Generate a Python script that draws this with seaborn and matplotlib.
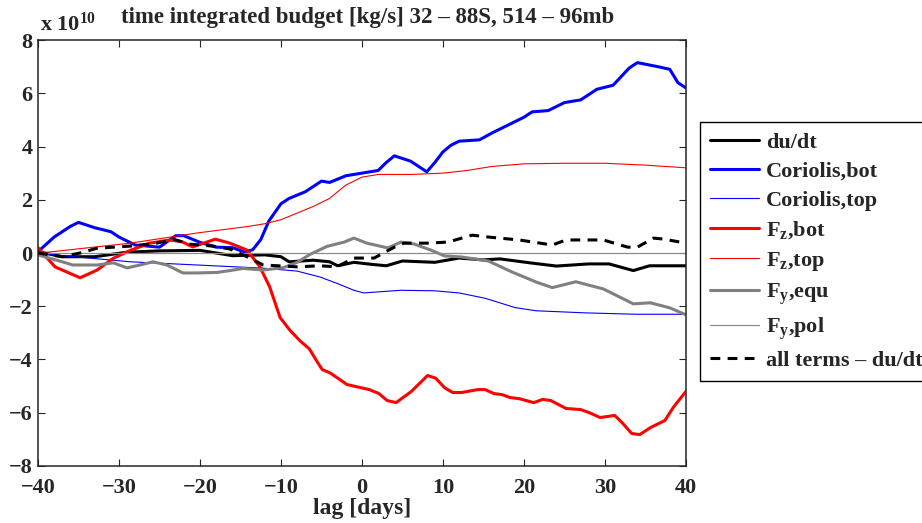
import matplotlib
matplotlib.use("Agg")
import matplotlib.pyplot as plt
import numpy as np
import pandas as pd
import seaborn as sns

# time-integrated momentum budget terms, in units of 1e10 kg/s
du_lag = [-40, -37, -33, -29, -25, -20, -18, -16, -12, -10, -9, -6, -4, -3, -1, 1, 3, 5,
          9, 12, 15, 17, 21, 24, 28, 30.5, 33.5, 35.5, 40]
du_val = [0.05, -0.14, -0.14, 0.03, 0.08, 0.1, 0.0, -0.1, -0.07, -0.14, -0.33, -0.27, -0.33,
          -0.48, -0.35, -0.42, -0.48, -0.3, -0.35, -0.19, -0.26, -0.22, -0.38, -0.49, -0.41,
          -0.41, -0.66, -0.48, -0.48]

cb_lag = [-40, -38, -36, -35, -33, -31, -30, -28, -25, -23, -22, -20, -18, -16, -14.5, -13.5,
          -12.5, -11.5, -10, -9, -7, -5, -4, -2, 0, 2, 3, 4, 5, 6, 8, 9, 10, 11, 12, 14.5, 16,
          18, 19, 20, 21, 23, 25, 27, 29, 31, 33, 34, 36.5, 38, 39, 40]
cb_val = [0.05, 0.6, 1.0, 1.15, 0.95, 0.8, 0.6, 0.3, 0.22, 0.65, 0.65, 0.4, 0.22, 0.2, 0.04,
          0.12, 0.5, 1.2, 1.85, 2.05, 2.3, 2.7, 2.65, 2.9, 3.0, 3.1, 3.4, 3.65, 3.55, 3.45,
          3.05, 3.4, 3.8, 4.05, 4.2, 4.25, 4.5, 4.8, 4.95, 5.1, 5.3, 5.35, 5.65, 5.75, 6.15,
          6.3, 6.95, 7.15, 7.0, 6.9, 6.4, 6.2]

ct_lag = [-40, -37, -28.6, -20.4, -12.2, -8, -5.2, -3, -1, 0.2, 2.5, 4.8, 9, 12, 15.2, 18.9,
          21.5, 27.7, 33.8, 40]
ct_val = [0.0, -0.1, -0.33, -0.45, -0.57, -0.68, -0.9, -1.15, -1.4, -1.5, -1.45, -1.4, -1.42,
          -1.5, -1.7, -2.05, -2.17, -2.25, -2.3, -2.3]

fzb_lag = [-40, -37.9, -34.8, -32.7, -30.7, -28.6, -26.2, -23.7, -22.2, -20.9, -18.1, -16.3,
           -14.2, -12.6, -11.4, -10.1, -8.9, -7.65, -6.5, -5.5, -4.9, -3.95, -1.85, 0.9, 2.1,
           3.1, 4.2, 6.1, 8.1, 9.1, 10.2, 11.2, 12.3, 14.3, 15.2, 16.3, 17.3, 18.3, 19.4,
           21.2, 22.3, 23.3, 25.2, 27, 28.1, 29.4, 31.2, 32.2, 33.3, 34.3, 35.6, 37.4, 38.5,
           39.5, 40]
fzb_val = [0.2, -0.52, -0.93, -0.64, -0.2, 0.1, 0.37, 0.49, 0.42, 0.23, 0.52, 0.37, 0.11,
           -0.52, -1.27, -2.43, -2.9, -3.3, -3.6, -4.1, -4.38, -4.5, -4.94, -5.13, -5.28,
           -5.54, -5.62, -5.2, -4.6, -4.7, -5.06, -5.24, -5.24, -5.13, -5.13, -5.28, -5.32,
           -5.43, -5.47, -5.62, -5.5, -5.54, -5.84, -5.88, -6.0, -6.18, -6.1, -6.4, -6.78,
           -6.82, -6.56, -6.29, -5.77, -5.39, -5.2]

fzt_lag = [-40, -38.5, -28.6, -20.4, -14, -12, -10, -8, -6, -4, -2, 0, 2, 6, 10, 13, 16, 20,
           25, 30, 35, 40]
fzt_val = [0.0, 0.04, 0.37, 0.75, 1.0, 1.1, 1.25, 1.5, 1.75, 2.05, 2.55, 2.85, 2.95, 2.95,
           3.0, 3.1, 3.25, 3.35, 3.37, 3.37, 3.3, 3.2]

fye_lag = [-40, -37, -35.7, -32.7, -30.7, -29, -27.4, -25.8, -24.1, -22.1, -20.4, -17.9,
           -16.3, -14.7, -12.2, -9.7, -8, -6.4, -4.3, -2.2, -1.0, 0.6, 3.2, 4.8, 6.4, 8.5,
           10.2, 12.3, 15.6, 18.5, 21.5, 23.5, 26.4, 29.8, 33.5, 35.6, 38, 40]
fye_val = [-0.07, -0.33, -0.45, -0.45, -0.37, -0.56, -0.45, -0.33, -0.45, -0.75, -0.75,
           -0.73, -0.66, -0.58, -0.64, -0.55, -0.35, -0.05, 0.25, 0.41, 0.56, 0.37, 0.19,
           0.41, 0.34, 0.11, -0.11, -0.15, -0.3, -0.71, -1.09, -1.3, -1.08, -1.35, -1.91,
           -1.87, -2.06, -2.32]

fyp_lag = [-40, -20, 0, 20, 40]
fyp_val = [0.0, 0.0, 0.0, 0.0, 0.0]

res_lag = [-40, -37, -34.8, -32.7, -28.6, -25.3, -23.3, -21.2, -18.4, -16.3, -14.2, -12.2,
           -8, -5.2, -3.1, -1.0, 1.5, 4.0, 5.2, 8.1, 10.6, 13.6, 15.6, 19.4, 23.5, 25.2, 29.8,
           32.8, 34, 36, 37.3, 40]
res_val = [0.0, -0.14, 0.0, 0.18, 0.26, 0.37, 0.52, 0.33, 0.26, 0.15, -0.14, -0.45, -0.52,
           -0.48, -0.52, -0.19, -0.19, 0.22, 0.37, 0.37, 0.41, 0.67, 0.6, 0.49, 0.3, 0.49,
           0.49, 0.22, 0.22, 0.56, 0.52, 0.37]

x_ticks = [-40, -30, -20, -10, 0, 10, 20, 30, 40]
y_ticks = [-8, -6, -4, -2, 0, 2, 4, 6, 8]

sns.set_style("ticks")
plt.rcParams.update({
    "font.family": ["Liberation Serif", "DejaVu Serif"],
    "font.weight": "bold",
    "mathtext.fontset": "custom",
    "mathtext.rm": "Liberation Serif:bold",
    "mathtext.it": "Liberation Serif:bold",
    "mathtext.bf": "Liberation Serif:bold",
    "axes.linewidth": 1.1,
    "xtick.direction": "in",
    "ytick.direction": "in",
    "xtick.top": True,
    "ytick.right": True,
    "xtick.major.size": 5,
    "ytick.major.size": 5,
    "xtick.major.width": 0.8,
    "ytick.major.width": 0.8,
})

series = [
    ("du/dt", du_lag, du_val, "black", 2.2, "-"),
    ("Coriolis,bot", cb_lag, cb_val, "#0000ff", 2.2, "-"),
    ("Coriolis,top", ct_lag, ct_val, "#0000ff", 0.8, "-"),
    ("F$_{z}$,bot", fzb_lag, fzb_val, "#ff0000", 2.2, "-"),
    ("F$_{z}$,top", fzt_lag, fzt_val, "#ff0000", 0.8, "-"),
    ("F$_{y}$,equ", fye_lag, fye_val, "#808080", 2.2, "-"),
    ("F$_{y}$,pol", fyp_lag, fyp_val, "#8c8c8c", 0.9, "-"),
    ("all terms \u2013 du/dt", res_lag, res_val, "black", 2.2, (0, (3.2, 2.4))),
]

frames = [pd.DataFrame({"lag": lg, "value": v, "term": name})
          for name, lg, v, *_ in series]
df = pd.concat(frames, ignore_index=True)

fig = plt.figure(figsize=(9.22, 5.23), dpi=100)
ax = fig.add_axes([0.0412, 0.109, 0.7028, 0.8145])

for name, _, _, color, lw, ls in series:
    sub = df[df["term"] == name]
    sns.lineplot(data=sub, x="lag", y="value", ax=ax, color=color, linewidth=lw,
                 linestyle=ls, label=name, sort=False, estimator=None)

# zero reference
ax.axhline(0, color="black", linewidth=0.6, linestyle=(0, (0.6, 3.0)), zorder=1.5)

ax.set_xlim(-40, 40)
ax.set_ylim(-8, 8)
ax.set_xticks(x_ticks)
ax.set_yticks(y_ticks)
ax.tick_params(labelsize=16)
ax.tick_params(axis="x", pad=8.5)
ax.tick_params(axis="y", pad=4)
for lab in ax.get_xticklabels() + ax.get_yticklabels():
    lab.set_fontweight("bold")
ax.set_xlabel("lag [days]", fontsize=17, fontweight="bold", labelpad=0)
ax.set_ylabel("")
ax.set_title("time integrated budget [kg/s] 32 \u2013 88S, 514 \u2013 96mb",
             fontsize=16.5, fontweight="bold", pad=12, x=0.509)
fig.text(0.043, 1 - 31 / 523, "x 10$^{10}$", fontsize=16, fontweight="bold",
         ha="left", va="baseline")

leg = ax.legend(loc="upper left", bbox_to_anchor=(0.7595, 0.766),
                bbox_transform=fig.transFigure, frameon=True, fancybox=False,
                fontsize=16, handlelength=2.2, handletextpad=0.3, labelspacing=0.38,
                borderpad=0.45, borderaxespad=0)
leg.get_frame().set_edgecolor("black")
leg.get_frame().set_linewidth(1.0)
leg.get_frame().set_alpha(1)
for t in leg.get_texts():
    t.set_fontweight("bold")

fig.savefig("out.png", dpi=100)
